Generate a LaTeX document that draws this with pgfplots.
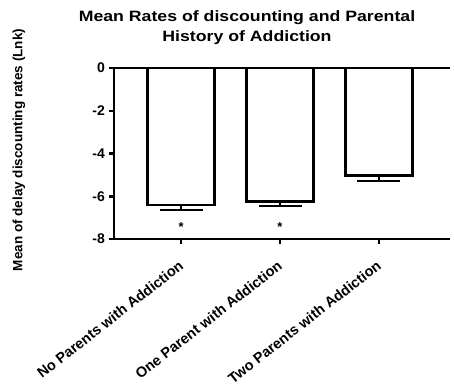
\documentclass[border=0pt]{standalone}
\usepackage{pgfplots}
\pgfplotsset{compat=1.18}
\usepackage{fontspec}
\setmainfont{Liberation Sans}
\newfontfamily\titlefont[FakeStretch=1.18]{Liberation Sans}
\begin{document}
\begin{tikzpicture}
\begin{axis}[
  scale only axis,
  width=336pt, height=171pt,
  xmin=-0.68, xmax=2.72,
  ymin=-8, ymax=0,
  axis lines=left,
  axis line style={line width=2.5pt, -},
  ytick={-8,-6,-4,-2,0},
  yticklabels={-8,-6,-4,-2,0},
  xtick={0,1,2},
  xticklabels={No Parents with Addiction, One Parent with Addiction, Two Parents with Addiction},
  x tick label style={rotate=38, anchor=north east, font=\bfseries\fontsize{14.5}{15}\selectfont, inner sep=0pt, xshift=-12pt, yshift=-10pt},
  y tick label style={font=\bfseries\fontsize{14}{14}\selectfont, inner sep=0pt, anchor=east, xshift=-4pt},
  tick style={line width=2.5pt, black},
  major tick length=5pt,
  tick align=outside,
  ylabel={Mean of delay discounting rates (Lnk)},
  ylabel style={font=\bfseries\fontsize{13.5}{14}\selectfont, at={(axis description cs:-0.283,0.52)}, anchor=center},
  title={Mean Rates of discounting and Parental\\History of Addiction},
  title style={font=\titlefont\bfseries\fontsize{15}{20}\selectfont, align=center, at={(axis description cs:0.5,1)}, anchor=center, yshift=34pt, xshift=-35pt},
  clip=false,
]
\addplot[ybar, bar width=67pt, fill=white, draw=black, line width=2.5pt,
  error bars/.cd, y dir=minus, y explicit,
  error bar style={line width=2pt},
  error mark options={rotate=90, mark size=21.5pt, line width=2pt}]
  coordinates {(0,-6.42) -= (0,0.23) (1,-6.25) -= (0,0.20) (2,-5.04) -= (0,0.25)};
\addplot[line width=2.5pt, black] coordinates {(-0.68,0) (2.72,0)};
\addplot[only marks, mark=none, point meta=explicit symbolic, nodes near coords,
  nodes near coords align={center}, every node near coord/.append style={font=\bfseries\fontsize{13}{13}\selectfont}]
  coordinates {(0,-7.45) [*] (1,-7.45) [*]};
\path (rel axis cs:0,0) ++(-114pt,-148pt) coordinate (bbA);
\path (rel axis cs:1,1) ++(4pt,68pt) coordinate (bbB);
\end{axis}
\path (bbA) rectangle (bbB);
\end{tikzpicture}
\end{document}
